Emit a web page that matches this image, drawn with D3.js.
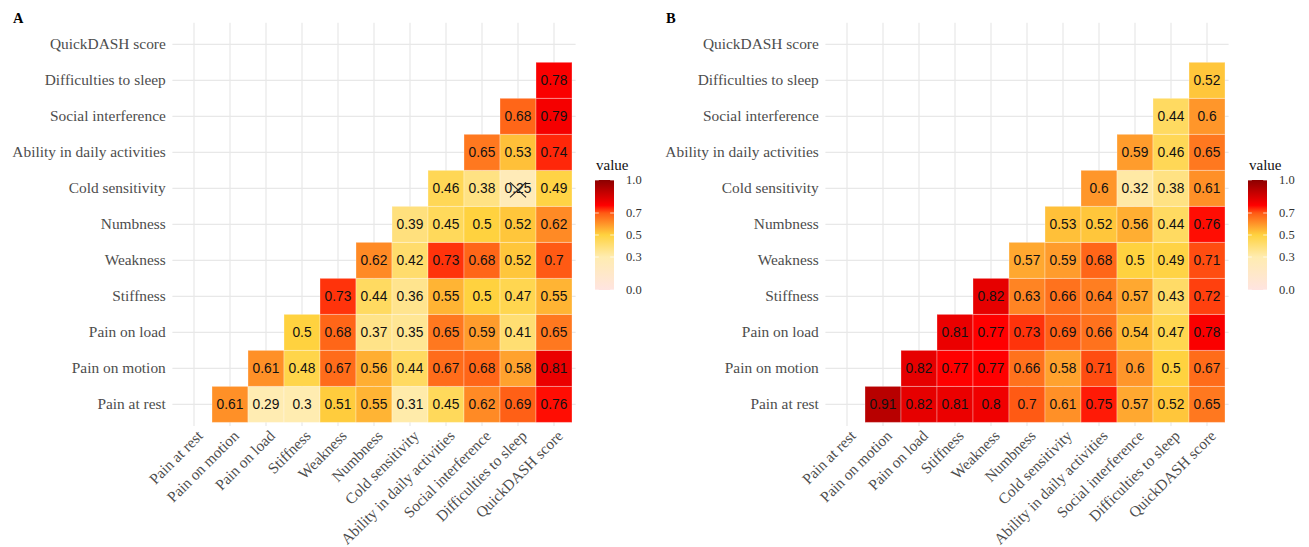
<!DOCTYPE html>
<html>
<head>
<meta charset="utf-8">
<script src="https://cdn.jsdelivr.net/npm/d3@7"></script>
<style>
  body { margin: 0; background: #fff; }
  svg { display: block; }
  .axis-label { font-family: "Liberation Serif", "Times New Roman", serif; font-size: 15.4px; fill: #4d4d4d; }
  .cell-label { font-family: "Liberation Sans", Arial, sans-serif; font-size: 13.8px; fill: #111; }
  .panel-tag { font-family: "Liberation Serif", serif; font-weight: bold; font-size: 14.5px; fill: #000; }
  .legend-title { font-family: "Liberation Serif", serif; font-size: 15px; fill: #111; }
  .legend-tick { font-family: "Liberation Serif", serif; font-size: 12.5px; fill: #333; }
</style>
</head>
<body>
<svg width="1309" height="547"></svg>
<script>
// variables, in axis order (bottom -> top on y, left -> right on x)
const variables = [
  "Pain at rest", "Pain on motion", "Pain on load", "Stiffness", "Weakness",
  "Numbness", "Cold sensitivity", "Ability in daily activities",
  "Social interference", "Difficulties to sleep", "QuickDASH score"
];

// upper triangle, one array per row variable (values for the columns to its right)
const valuesA = [
  [0.61, 0.29, 0.3, 0.51, 0.55, 0.31, 0.45, 0.62, 0.69, 0.76],
  [0.61, 0.48, 0.67, 0.56, 0.44, 0.67, 0.68, 0.58, 0.81],
  [0.5, 0.68, 0.37, 0.35, 0.65, 0.59, 0.41, 0.65],
  [0.73, 0.44, 0.36, 0.55, 0.5, 0.47, 0.55],
  [0.62, 0.42, 0.73, 0.68, 0.52, 0.7],
  [0.39, 0.45, 0.5, 0.52, 0.62],
  [0.46, 0.38, 0.25, 0.49],
  [0.65, 0.53, 0.74],
  [0.68, 0.79],
  [0.78]
];
const valuesB = [
  [0.91, 0.82, 0.81, 0.8, 0.7, 0.61, 0.75, 0.57, 0.52, 0.65],
  [0.82, 0.77, 0.77, 0.66, 0.58, 0.71, 0.6, 0.5, 0.67],
  [0.81, 0.77, 0.73, 0.69, 0.66, 0.54, 0.47, 0.78],
  [0.82, 0.63, 0.66, 0.64, 0.57, 0.43, 0.72],
  [0.57, 0.59, 0.68, 0.5, 0.49, 0.71],
  [0.53, 0.52, 0.56, 0.44, 0.76],
  [0.6, 0.32, 0.38, 0.61],
  [0.59, 0.46, 0.65],
  [0.44, 0.6],
  [0.52]
];
// non significant cells (crossed out): [row variable, column variable]
const crossedA = [["Cold sensitivity", "Difficulties to sleep"]];
const crossedB = [];

const legendTicks = [0, 0.3, 0.5, 0.7, 1.0];

// colour gradient
const colorStops = [0, 0.3, 0.5, 0.7, 0.77, 1];
const colorRange = ["#ffe4e1", "#ffecb0", "#ffd23f", "#ff5a14", "#ff0000", "#8b0000"];
const color = d3.scaleLinear().domain(colorStops).range(colorRange);

const svg = d3.select("svg");

// turn row arrays into tiles
const toTiles = (rows) => {
  const tiles = [];
  rows.forEach((row, i) => {
    row.forEach((v, k) => {
      tiles.push({ row: variables[i], col: variables[i + 1 + k], value: v });
    });
  });
  return tiles;
};

const drawPanel = (dx, rows, crossed, tag) => {
  const g = svg.append("g").attr("transform", `translate(${dx},0)`);

  const x = d3.scaleBand().domain(variables).range([172.4, 575.6]).paddingInner(0).paddingOuter(0.1);
  const y = d3.scaleBand().domain(variables).range([426, 22.7]).paddingInner(0).paddingOuter(0.1);
  const bw = x.bandwidth();

  // grid
  g.append("g").selectAll("line.v").data(variables).enter().append("line")
    .attr("x1", d => x(d) + bw / 2).attr("x2", d => x(d) + bw / 2)
    .attr("y1", 22.7).attr("y2", 426)
    .attr("stroke", "#e8e8e8").attr("stroke-width", 1.2);
  g.append("g").selectAll("line.h").data(variables).enter().append("line")
    .attr("y1", d => y(d) + bw / 2).attr("y2", d => y(d) + bw / 2)
    .attr("x1", 172.4).attr("x2", 575.6)
    .attr("stroke", "#e8e8e8").attr("stroke-width", 1.2);

  const tiles = toTiles(rows);

  g.append("g").selectAll("rect").data(tiles).enter().append("rect")
    .attr("x", d => x(d.col))
    .attr("y", d => y(d.row))
    .attr("width", bw)
    .attr("height", y.bandwidth())
    .attr("fill", d => color(d.value))
    .attr("stroke", "#ffffff")
    .attr("stroke-opacity", 0.3)
    .attr("stroke-width", 1);

  g.append("g").selectAll("text").data(tiles).enter().append("text")
    .attr("class", "cell-label")
    .attr("x", d => x(d.col) + bw / 2)
    .attr("y", d => y(d.row) + y.bandwidth() / 2)
    .attr("text-anchor", "middle")
    .attr("dy", "0.36em")
    .text(d => String(d.value));

  // crosses for non significant correlations
  crossed.forEach(([r, c]) => {
    const cx = x(c) + bw / 2, cy = y(r) + y.bandwidth() / 2 + 1;
    g.append("path")
      .attr("d", `M${cx - 8},${cy - 7}L${cx + 8},${cy + 8}M${cx - 8},${cy + 8}L${cx + 8},${cy - 7}`)
      .attr("stroke", "#222").attr("stroke-width", 1.2).attr("fill", "none");
  });

  // y axis labels
  g.append("g").selectAll("text").data(variables).enter().append("text")
    .attr("class", "axis-label")
    .attr("x", 165.8)
    .attr("y", d => y(d) + bw / 2)
    .attr("dy", "0.33em")
    .attr("text-anchor", "end")
    .text(d => d);

  // x axis labels, rotated 45 degrees
  g.append("g").selectAll("text").data(variables).enter().append("text")
    .attr("class", "axis-label")
    .attr("transform", d => `translate(${x(d) + bw / 2 + 2},${429}) rotate(-45)`)
    .attr("text-anchor", "end")
    .attr("dy", "0.72em")
    .text(d => d);

  // panel tag
  g.append("text").attr("class", "panel-tag").attr("x", 13).attr("y", 22.5).text(tag);

  // colourbar legend
  const gradId = "grad" + tag;
  const grad = svg.append("defs").append("linearGradient")
    .attr("id", gradId).attr("x1", 0).attr("x2", 0).attr("y1", 1).attr("y2", 0);
  colorStops.forEach((s, i) => {
    grad.append("stop").attr("offset", s).attr("stop-color", colorRange[i]);
  });

  const ly = d3.scaleLinear().domain([0, 1]).range([290, 180]);
  const lx = 595, lw = 19;
  const leg = g.append("g");
  leg.append("text").attr("class", "legend-title").attr("x", lx + 1).attr("y", 170).text("value");
  leg.append("rect").attr("x", lx).attr("y", ly(1)).attr("width", lw).attr("height", ly(0) - ly(1))
    .attr("fill", `url(#${gradId})`);
  leg.selectAll("line.tl").data(legendTicks).enter().append("line")
    .attr("x1", lx).attr("x2", lx + lw / 5)
    .attr("y1", d => ly(d)).attr("y2", d => ly(d))
    .attr("stroke", "#fff").attr("stroke-opacity", 0.7);
  leg.selectAll("line.tr").data(legendTicks).enter().append("line")
    .attr("x1", lx + lw - lw / 5).attr("x2", lx + lw)
    .attr("y1", d => ly(d)).attr("y2", d => ly(d))
    .attr("stroke", "#fff").attr("stroke-opacity", 0.7);
  leg.selectAll("text.tick").data(legendTicks).enter().append("text")
    .attr("class", "legend-tick")
    .attr("x", lx + lw + 12)
    .attr("y", d => ly(d))
    .attr("dy", "0.3em")
    .text(d => d.toFixed(1));
};

drawPanel(0, valuesA, crossedA, "A");
drawPanel(653, valuesB, crossedB, "B");
</script>
</body>
</html>
